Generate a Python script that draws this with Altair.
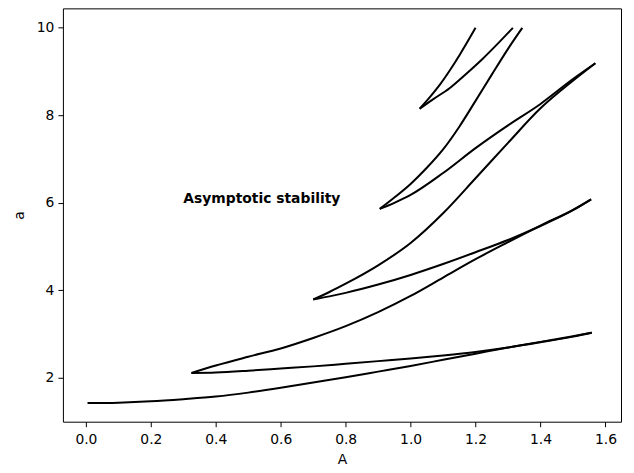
import altair as alt
import pandas as pd

# ---- data ----
c0_A = [0.005, 0.1, 0.2, 0.3, 0.4, 0.5, 0.6, 0.7, 0.8, 0.9, 1.0, 1.1, 1.2, 1.3, 1.4, 1.5, 1.558]
c0_a = [1.42, 1.43, 1.46, 1.51, 1.57, 1.66, 1.77, 1.89, 2.01, 2.14, 2.27, 2.41, 2.55, 2.69, 2.82, 2.95, 3.03]

t1_lo_A = [0.325, 0.4, 0.5, 0.6, 0.7, 0.8, 0.9, 1.0, 1.1, 1.2, 1.3, 1.4, 1.5, 1.558]
t1_lo_a = [2.11, 2.12, 2.16, 2.21, 2.26, 2.32, 2.38, 2.44, 2.51, 2.59, 2.69, 2.81, 2.94, 3.03]
t1_up_A = [0.325, 0.4, 0.5, 0.6, 0.7, 0.8, 0.9, 1.0, 1.1, 1.2, 1.3, 1.4, 1.5, 1.556]
t1_up_a = [2.11, 2.28, 2.48, 2.67, 2.91, 3.18, 3.50, 3.87, 4.29, 4.71, 5.10, 5.48, 5.84, 6.08]

t2_lo_A = [0.70, 0.75, 0.8, 0.9, 1.0, 1.1, 1.2, 1.3, 1.4, 1.5, 1.556]
t2_lo_a = [3.79, 3.86, 3.94, 4.13, 4.35, 4.60, 4.87, 5.15, 5.47, 5.83, 6.08]
t2_up_A = [0.70, 0.75, 0.8, 0.9, 1.0, 1.1, 1.2, 1.3, 1.4, 1.5, 1.569]
t2_up_a = [3.79, 3.96, 4.15, 4.57, 5.08, 5.76, 6.56, 7.37, 8.16, 8.79, 9.19]

t3_lo_A = [0.905, 0.95, 1.0, 1.1, 1.2, 1.3, 1.4, 1.5, 1.569]
t3_lo_a = [5.86, 6.00, 6.18, 6.68, 7.25, 7.77, 8.26, 8.83, 9.19]
t3_up_A = [0.905, 0.95, 1.0, 1.05, 1.1, 1.15, 1.2, 1.25, 1.3, 1.344]
t3_up_a = [5.86, 6.12, 6.43, 6.80, 7.22, 7.74, 8.33, 8.93, 9.52, 10.0]

t4_lo_A = [1.028, 1.07, 1.12, 1.17, 1.223, 1.27, 1.315]
t4_lo_a = [8.15, 8.37, 8.62, 8.94, 9.30, 9.65, 10.0]
t4_up_A = [1.028, 1.06, 1.089, 1.12, 1.151, 1.2]
t4_up_a = [8.15, 8.42, 8.69, 9.02, 9.38, 10.0]

label_text = "Asymptotic stability"
label_A = [0.3]
label_a = [6.0]

x_ticks = [0.0, 0.2, 0.4, 0.6, 0.8, 1.0, 1.2, 1.4, 1.6]
y_ticks = [2, 4, 6, 8, 10]

branches = {
    "c0": (c0_A, c0_a),
    "t1_lo": (t1_lo_A, t1_lo_a), "t1_up": (t1_up_A, t1_up_a),
    "t2_lo": (t2_lo_A, t2_lo_a), "t2_up": (t2_up_A, t2_up_a),
    "t3_lo": (t3_lo_A, t3_lo_a), "t3_up": (t3_up_A, t3_up_a),
    "t4_lo": (t4_lo_A, t4_lo_a), "t4_up": (t4_up_A, t4_up_a),
}
rows = []
for name, (xs_, ys_) in branches.items():
    for i, (xv, yv) in enumerate(zip(xs_, ys_)):
        rows.append({"branch": name, "order": i, "A": xv, "a": yv})
df = pd.DataFrame(rows)
lab = pd.DataFrame({"A": label_A, "a": label_a, "text": [label_text]})

FONT = "DejaVu Sans"
xs = alt.Scale(domain=[-0.0708, 1.648], nice=False, zero=False)
ys = alt.Scale(domain=[0.995, 10.445], nice=False, zero=False)

lines = alt.Chart(df).mark_line(color="black", strokeWidth=2, interpolate="monotone").encode(
    x=alt.X("A:Q", scale=xs, title="A",
            axis=alt.Axis(values=x_ticks, format=".1f")),
    y=alt.Y("a:Q", scale=ys, title="a",
            axis=alt.Axis(values=y_ticks, format="d")),
    detail="branch:N",
    order="order:Q",
)

text = alt.Chart(lab).mark_text(
    align="left", baseline="alphabetic", font=FONT, fontSize=13.9,
    fontWeight="bold", color="black"
).encode(x="A:Q", y="a:Q", text="text:N")

chart = alt.layer(lines, text).properties(
    width=559, height=414,
    autosize=alt.AutoSizeParams(type="none"),
    padding={"left": 55, "top": 0, "right": 5, "bottom": 44},
).configure_view(
    stroke="black", strokeWidth=1
).configure_axis(
    grid=False, domain=False,
    tickColor="black", tickSize=5, tickWidth=1,
    labelColor="black", labelFont=FONT, labelFontSize=13.9, labelPadding=4,
    titleColor="black", titleFont=FONT, titleFontSize=13.9,
    titleFontWeight="normal",
).configure_axisX(labelPadding=6, titlePadding=6).configure_axisY(titlePadding=10)

chart.save("out.html", embed_options={"renderer": "svg", "actions": False})
